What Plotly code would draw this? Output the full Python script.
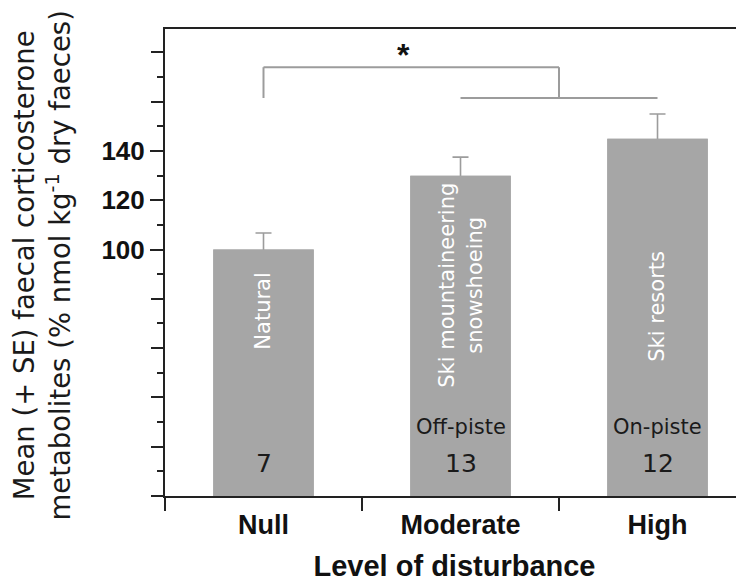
import plotly.graph_objects as go

# ---- data ----
categories = ["Null", "Moderate", "High"]
means = [100, 130, 145]
se = [6.7, 7.5, 10.0]
sample_sizes = ["7", "13", "12"]
activities = ["Natural", "Ski mountaineering<br>snowshoeing", "Ski resorts"]
piste = ["", "Off-piste", "On-piste"]
y_labelled = [100, 120, 140]
y_major = [0, 20, 40, 60, 80, 100, 120, 140, 160, 180]
bracket_top = 174
bracket_low = 161.5
star_y = 179

BAR = "#a6a6a6"
LINEGREY = "#9c9c9c"
AX = "#222222"
Y_RANGE = [0, 189.5]

fig = go.Figure()
# bars carrying the (upper) error bars
fig.add_trace(go.Bar(
    x=categories, y=means, width=0.51,
    marker=dict(color=BAR, line=dict(width=0)),
    error_y=dict(type="data", array=se, symmetric=False, arrayminus=[1.5, 1.5, 1.5],
                 color=LINEGREY, thickness=1.6, width=8),
    showlegend=False, hoverinfo="skip",
))
# same bars again on top, hiding the lower cap of the error bars
fig.add_trace(go.Bar(
    x=categories, y=means, width=0.51,
    marker=dict(color=BAR, line=dict(width=0)),
    showlegend=False, hoverinfo="skip",
))
# invisible trace for the unlabeled major-tick axis
fig.add_trace(go.Scatter(x=categories, y=means, yaxis="y2", mode="none",
                         showlegend=False, hoverinfo="skip"))

# rotated activity labels inside bars
act_y = [75, 85.5, 77]
for c, t, yy in zip(categories, activities, act_y):
    fig.add_annotation(x=c, y=yy, xref="x", yref="y", text=t, textangle=-90,
                       showarrow=False, font=dict(family="DejaVu Sans", size=21, color="white"),
                       xanchor="center", yanchor="middle")

# Off-piste / On-piste
for c, t in zip(categories, piste):
    if t:
        fig.add_annotation(x=c, y=28, xref="x", yref="y", text=t, showarrow=False,
                           font=dict(family="DejaVu Sans", size=21, color="#1a1a1a"),
                           xanchor="center", yanchor="middle")

# sample sizes
for c, t in zip(categories, sample_sizes):
    fig.add_annotation(x=c, y=13, xref="x", yref="y", text=t, showarrow=False,
                       font=dict(family="DejaVu Sans", size=25, color="#1a1a1a"),
                       xanchor="center", yanchor="middle")

# significance bracket
lw = dict(color=LINEGREY, width=2)
fig.add_shape(type="line", xref="x", yref="y", x0=0, x1=0, y0=bracket_low, y1=bracket_top, line=lw)
fig.add_shape(type="line", xref="x", yref="y", x0=0, x1=1.5, y0=bracket_top, y1=bracket_top, line=lw)
fig.add_shape(type="line", xref="x", yref="y", x0=1.5, x1=1.5, y0=bracket_top, y1=bracket_low, line=lw)
fig.add_shape(type="line", xref="x", yref="y", x0=1, x1=2, y0=bracket_low, y1=bracket_low, line=lw)
fig.add_annotation(x=0.71, y=star_y, xref="x", yref="y", text="*", showarrow=False,
                   font=dict(family="Liberation Sans", size=32, color="#111", weight="bold"),
                   xanchor="center", yanchor="middle")

# y-axis title
fig.add_annotation(
    x=(42.5 - 165) / 579, y=0.4925, xref="paper", yref="paper",
    text="Mean (+ SE) faecal corticosterone<br>metabolites (% nmol kg<sup>-1</sup> dry faeces)",
    textangle=-90, showarrow=False, xanchor="center", yanchor="middle",
    font=dict(family="DejaVu Sans", size=27.5, color="#1a1a1a"),
)

fig.update_layout(
    width=736, height=577,
    margin=dict(l=157, r=0, t=21, b=89),
    paper_bgcolor="white", plot_bgcolor="white",
    barmode="overlay",
    xaxis=dict(
        range=[-0.5, 2.439], type="category",
        showline=True, linecolor=AX, linewidth=2, mirror=True,
        ticks="outside", tickson="boundaries", ticklen=13, tickwidth=2, tickcolor=AX,
        ticklabelstandoff=4,
        tickfont=dict(family="Liberation Sans", size=27, color="#111", weight="bold"),
        showgrid=False, zeroline=False,
        title=dict(text="Level of disturbance", standoff=16,
                   font=dict(family="Liberation Sans", size=29, color="#111", weight="bold")),
    ),
    yaxis=dict(
        range=Y_RANGE,
        showline=True, linecolor=AX, linewidth=2,
        tickmode="array", tickvals=y_labelled,
        ticks="outside", ticklen=13, tickwidth=2, tickcolor=AX,
        tickfont=dict(family="Liberation Sans", size=26, color="#111", weight="bold"),
        showgrid=False, zeroline=False,
    ),
    yaxis2=dict(
        range=Y_RANGE, overlaying="y", side="left", anchor="x",
        showline=False, showticklabels=False,
        tickmode="array", tickvals=y_major,
        ticks="outside", ticklen=13, tickwidth=2, tickcolor=AX,
        minor=dict(tickmode="linear", tick0=0, dtick=10, ticks="outside",
                   ticklen=7, tickwidth=2, tickcolor=AX, showgrid=False),
        showgrid=False, zeroline=False,
    ),
)

fig.write_html("out.html")
